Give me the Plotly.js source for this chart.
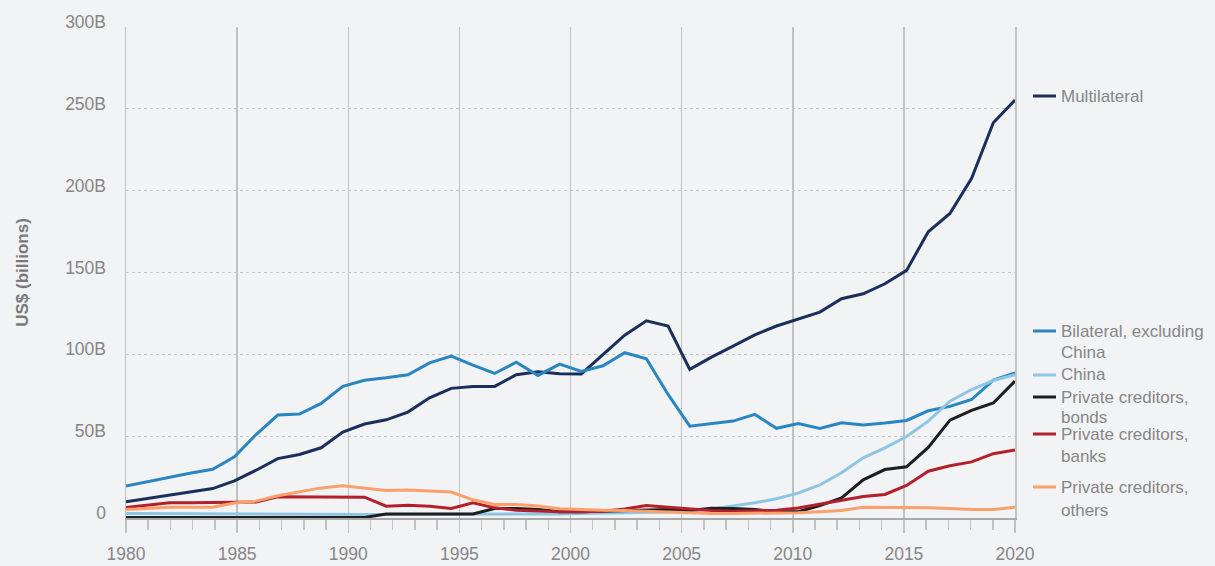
<!DOCTYPE html>
<html>
<head>
<meta charset="utf-8">
<script src="https://cdn.plot.ly/plotly-3.0.1.min.js"></script>
<style>html,body{margin:0;padding:0;background:#f2f3f5;}</style>
</head>
<body>
<div id="chart" style="width:1215px;height:566px;"></div>
<script>
// ---- data (US$ billions) ----
const years = [1980,1981,1982,1983,1984,1985,1986,1987,1988,1989,1990,1991,1992,1993,1994,1995,1996,1997,1998,1999,2000,2001,2002,2003,2004,2005,2006,2007,2008,2009,2010,2011,2012,2013,2014,2015,2016,2017,2018,2019,2020,2021];

const multilateral = [9.9,11.9,14.2,16.2,18.0,22.7,29.2,36.3,38.8,42.9,52.5,57.4,60.0,64.7,73.4,79.2,80.4,80.4,87.5,89.4,88.2,88.0,99.9,111.7,120.5,117.3,90.8,98.3,105.0,111.9,117.3,121.7,125.8,134.0,137.0,143.1,151.3,174.9,186.1,207.5,241.5,255.4];
const bilateral = [19.5,22.3,25.0,27.5,29.8,37.4,51.0,62.9,63.5,70.0,80.4,84.2,85.7,87.5,94.8,98.9,93.4,88.3,95.2,87.1,94.0,89.5,93.0,101.0,97.3,75.5,56.1,57.8,59.2,63.3,54.8,57.7,54.7,58.2,56.9,58.0,59.6,65.5,68.2,72.4,84.2,88.7];
const china = [2.8,2.7,2.6,2.5,2.4,2.3,2.2,2.2,2.1,2.1,2.1,2.1,2.1,2.1,2.1,2.1,2.1,2.2,2.3,2.4,2.5,2.8,2.9,3.1,3.3,3.6,4.2,5.4,7.4,9.3,11.8,15.2,20.2,27.6,36.8,42.9,49.8,59.2,71.4,78.5,84.0,87.5];
const bonds = [0.3,0.3,0.3,0.3,0.3,0.3,0.3,0.3,0.3,0.3,0.3,0.3,2.5,2.5,2.5,2.5,2.5,5.8,5.8,5.2,3.8,3.8,4.2,4.8,5.2,5.2,4.6,6.0,5.8,5.2,3.8,3.8,7.6,12.3,23.3,29.6,31.3,43.1,59.8,65.8,70.3,83.6];
const banks = [6.4,7.8,9.3,9.3,9.3,9.3,9.7,13.0,13.0,13.0,12.8,12.7,7.2,7.8,7.2,5.8,9.3,6.2,4.8,4.2,3.8,3.8,4.2,5.5,7.6,6.6,5.6,4.6,4.2,4.4,4.7,6.1,8.3,10.8,13.1,14.4,19.9,28.6,31.9,34.3,39.3,41.5];
const others = [5.2,5.9,6.6,6.6,6.6,9.1,10.3,13.6,15.8,18.4,19.7,18.3,16.8,17.1,16.4,15.9,11.1,8.3,8.3,7.4,5.6,5.0,4.8,4.6,4.2,3.6,3.0,2.8,2.8,2.8,3.2,3.2,3.8,4.6,6.6,6.6,6.6,6.2,5.8,5.2,5.2,6.6];

const seriesNames = ["Multilateral","Bilateral, excluding<br>China","China","Private creditors,<br>bonds","Private creditors,<br>banks","Private creditors,<br>others"];
const seriesValues = [multilateral, bilateral, china, bonds, banks, others];
const seriesColors = ["#1b2f5c","#2a86c0","#8cc6e4","#1e1e1e","#b3202c","#f9a06c"];

const xTickLabels = ["1980","1985","1990","1995","2000","2005","2010","2015","2020"];
const yTickVals = [0,50,100,150,200,250,300];
const yTickLabels = ["0","50B","100B","150B","200B","250B","300B"];

// legend line positions (pixel centres of each text line, from top of page)
const legendLinesY = [[96], [331, 352], [375], [397, 417], [434, 456], [487, 510]];

// ---- layout geometry ----
const W = 1215, H = 566;
const M = {l:126, r:200, t:27, b:48};
const plotW = W - M.l - M.r, plotH = H - M.t - M.b;
const pxToPaperX = px => (px - M.l) / plotW;
const pxToPaperY = py => (H - M.b - py) / plotH;

const x0 = years[0], x1 = years[years.length-1];
const tickStep = (x1 - x0) / (xTickLabels.length - 1);
const xTickVals = xTickLabels.map((_, i) => x0 + i * tickStep);

const traces = seriesValues.map((vals, i) => ({
  type: 'scatter', mode: 'lines',
  x: years, y: vals,
  name: seriesNames[i].replace('<br>', ' '),
  line: {color: seriesColors[i], width: 3},
  showlegend: false,
  hoverinfo: 'x+y'
}));

const font = "'Liberation Sans', Arial, Helvetica, sans-serif";
const gray = '#868686';

const annotations = [];
const shapes = [];
seriesNames.forEach((n, i) => {
  const lines = n.split('<br>');
  lines.forEach((t, j) => {
    annotations.push({
      xref: 'paper', yref: 'paper',
      x: pxToPaperX(1060), y: pxToPaperY(legendLinesY[i][j]),
      xanchor: 'left', yanchor: 'middle', align: 'left',
      text: t, showarrow: false, borderpad: 0,
      font: {family: font, size: 17, color: gray}
    });
  });
  shapes.push({
    type: 'line', xref: 'paper', yref: 'paper',
    x0: pxToPaperX(1033), x1: pxToPaperX(1056),
    y0: pxToPaperY(legendLinesY[i][0]), y1: pxToPaperY(legendLinesY[i][0]),
    line: {color: seriesColors[i], width: 3}
  });
});

const layout = {
  width: W, height: H,
  margin: M,
  paper_bgcolor: '#f2f3f5',
  plot_bgcolor: '#f2f3f5',
  font: {family: font, color: gray, size: 17.5},
  showlegend: false,
  xaxis: {
    range: [x0, x1],
    tickmode: 'array', tickvals: xTickVals, ticktext: xTickLabels,
    ticks: 'outside', ticklen: 13, tickwidth: 1.5, tickcolor: '#c2c2c2',
    ticklabelstandoff: 6,
    minor: {tick0: x0, dtick: (x1 - x0) / 40, ticks: 'outside', ticklen: 10, tickwidth: 1.5, tickcolor: '#c2c2c2', showgrid: false},
    showgrid: true, gridcolor: '#c2c2c2', gridwidth: 1.5,
    showline: true, linecolor: '#a8a8a8', linewidth: 2,
    zeroline: false,
    tickfont: {family: font, size: 17.5, color: gray}
  },
  yaxis: {
    range: [0, 300],
    tickmode: 'array', tickvals: yTickVals, ticktext: yTickLabels,
    ticks: '', ticklabelstandoff: 15, ticklabelshift: -5,
    showgrid: true, gridcolor: '#c6c6c6', gridwidth: 1.3, griddash: 'dot',
    showline: true, linecolor: '#c2c2c2', linewidth: 1.5, mirror: true,
    zeroline: false,
    tickfont: {family: font, size: 17.5, color: gray},
    title: {text: 'US$ (billions)', standoff: 32, font: {family: font, size: 17, color: '#7a7a7a', weight: 'bold'}}
  },
  annotations: annotations,
  shapes: shapes
};

Plotly.newPlot('chart', traces, layout, {displayModeBar: false, staticPlot: true});
</script>
</body>
</html>
